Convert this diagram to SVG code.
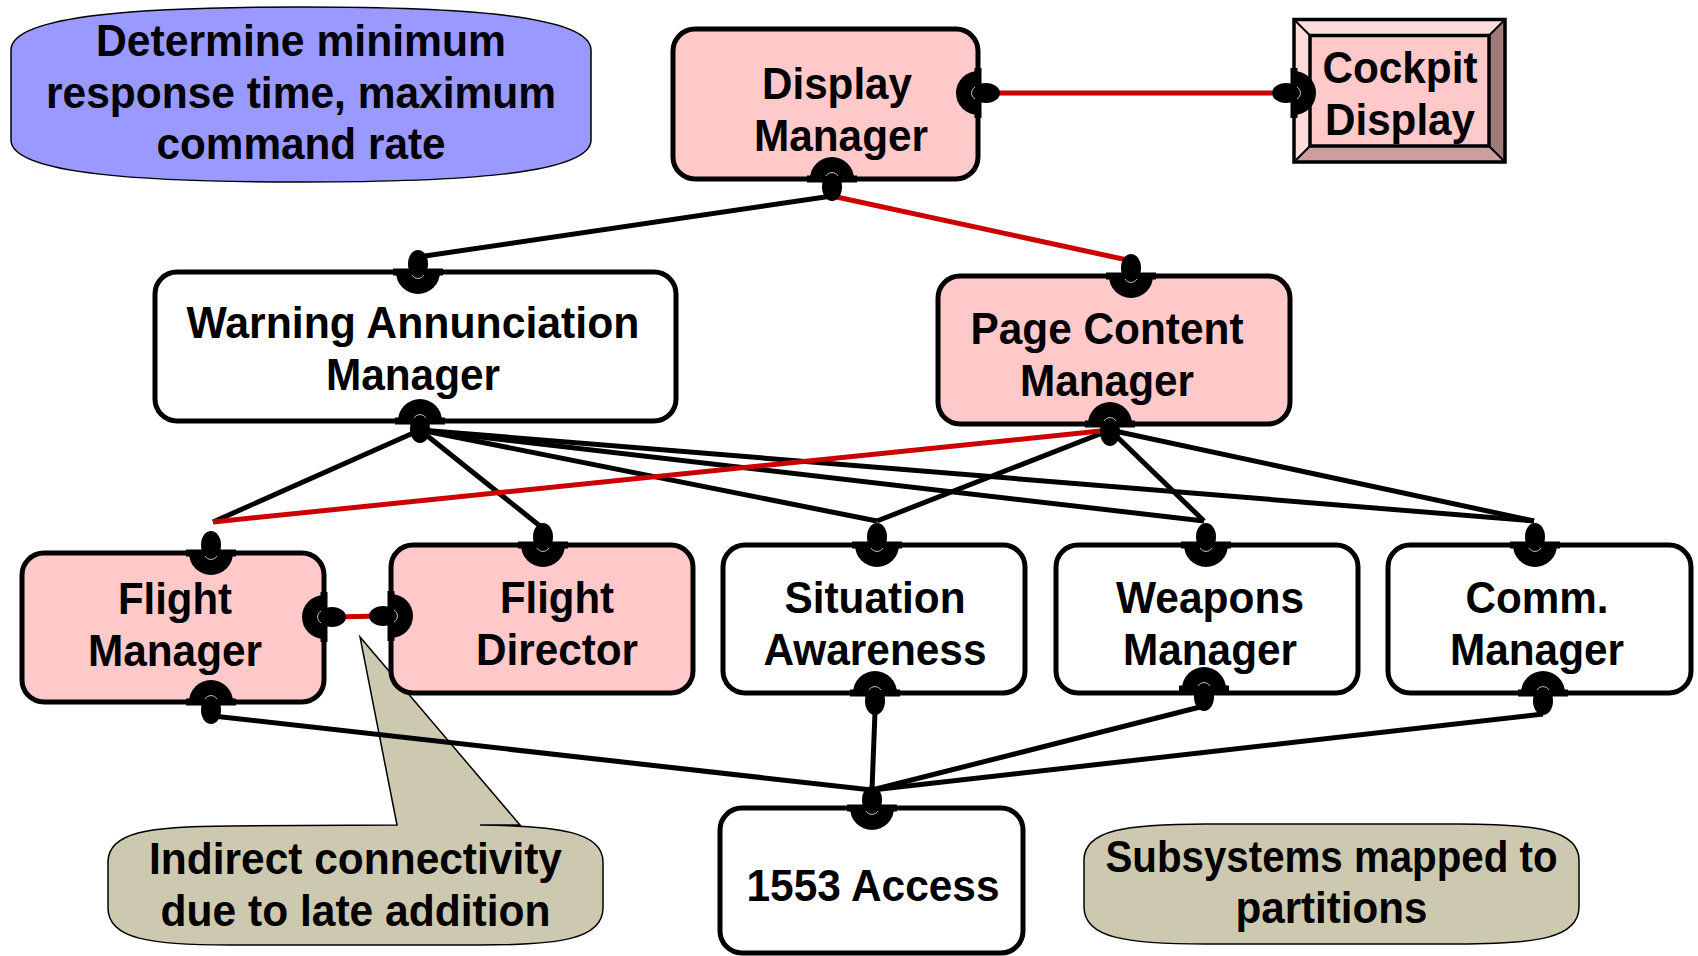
<svg xmlns="http://www.w3.org/2000/svg" xmlns:xlink="http://www.w3.org/1999/xlink" width="1698" height="956" viewBox="0 0 1698 956">
  <style>
    .box { stroke: #000; stroke-width: 5; }
    .pink { fill: #ffc9c9; }
    .white { fill: #fff; }
    .lbl { font-family: "Liberation Sans", Arial, sans-serif; font-weight: bold; font-size: 44px; fill: #000; text-anchor: middle; }
    .note { stroke: #000; stroke-width: 1.5; }
    .wire { fill: none; stroke: #000; stroke-width: 5; }
    .wire.red { stroke: #cc0000; }
  </style>
  <defs>
    <!-- socket port: half-disc inside the box edge, ball pointing outward (-y) -->
    <g id="port">
      <path d="M-22,0 A22,22 0 0,0 22,0 Z" fill="#000"/>
      <rect x="-25" y="-3.5" width="50" height="7" fill="#000"/>
      <ellipse cx="0" cy="-8" rx="10" ry="14" fill="#000"/>
      <path d="M-6,3 A7,7 0 0,0 6,3" fill="none" stroke="#c8c8c8" stroke-width="1"/>
    </g>
  </defs>

  <rect width="1698" height="956" fill="#fff"/>

  <!-- annotations -->
  <g id="note-response">
    <path class="note" fill="#9999ff" d="M11,50 C11,14 150,7 301,7 C452,7 591,14 591,50 L591,140 C591,175 452,182 301,182 C150,182 11,175 11,140 Z"/>
    <text class="lbl" x="301" y="56" textLength="410" lengthAdjust="spacingAndGlyphs">Determine minimum</text>
    <text class="lbl" x="301" y="108" textLength="510" lengthAdjust="spacingAndGlyphs">response time, maximum</text>
    <text class="lbl" x="301" y="159" textLength="289" lengthAdjust="spacingAndGlyphs">command rate</text>
  </g>
  <g id="note-indirect">
    <path class="note" fill="#cdc9b0" d="M108,862 C108,832 150,826 230,826 L397,825 L360,637 L520,825 L480,825 C560,826 603,832 603,862 L603,908 C603,939 560,945 480,945 L230,945 C150,945 108,939 108,908 Z"/>
    <text class="lbl" x="355.5" y="874" textLength="413" lengthAdjust="spacingAndGlyphs">Indirect connectivity</text>
    <text class="lbl" x="355.5" y="926" textLength="390" lengthAdjust="spacingAndGlyphs">due to late addition</text>
  </g>
  <g id="note-subsystems">
    <path class="note" fill="#cdc9b0" d="M1084,860 C1084,830 1126,824 1206,824 L1457,824 C1537,824 1579,830 1579,860 L1579,907 C1579,938 1537,944 1457,944 L1206,944 C1126,944 1084,938 1084,907 Z"/>
    <text class="lbl" x="1331.5" y="872" textLength="452" lengthAdjust="spacingAndGlyphs">Subsystems mapped to</text>
    <text class="lbl" x="1331.5" y="923" textLength="192" lengthAdjust="spacingAndGlyphs">partitions</text>
  </g>

  <!-- connectors -->
  <g id="connectors">
    <path class="wire red" d="M996,93 L1272,93"/>
    <path class="wire" d="M832,196 L418,257"/>
    <path class="wire red" d="M832,196 L1132,261"/>
    <path class="wire" d="M420,430 L213,522"/>
    <path class="wire" d="M420,430 L545,530"/>
    <path class="wire" d="M420,430 L877,521"/>
    <path class="wire" d="M420,430 L1204,521"/>
    <path class="wire" d="M420,430 L1534,521"/>
    <path class="wire" d="M1110,430 L877,521"/>
    <path class="wire" d="M1110,430 L1204,521"/>
    <path class="wire" d="M1110,430 L1534,521"/>
    <path class="wire red" d="M1110,430 L213,522"/>
    <path class="wire red" d="M334,617 L381,616"/>
    <path class="wire" d="M213,716 L872,790"/>
    <path class="wire" d="M875,712 L872,790"/>
    <path class="wire" d="M1204,706 L872,790"/>
    <path class="wire" d="M1543,714 L872,790"/>
  </g>

  <!-- nodes -->
  <g id="display-manager">
    <rect class="box pink" x="673" y="29" width="305" height="150" rx="22"/>
    <text class="lbl" x="837" y="99" textLength="150" lengthAdjust="spacingAndGlyphs">Display</text>
    <text class="lbl" x="841" y="151" textLength="174" lengthAdjust="spacingAndGlyphs">Manager</text>
    <use xlink:href="#port" transform="translate(978 93) rotate(90)"/>
    <use xlink:href="#port" transform="translate(832 179) rotate(180)"/>
  </g>

  <g id="cockpit-display">
    <polygon points="1294,19.5 1505,19.5 1489,35.5 1310,35.5" fill="#ffdcdc"/>
    <polygon points="1294,19.5 1310,35.5 1310,146 1294,162" fill="#ffdcdc"/>
    <polygon points="1294,162 1310,146 1489,146 1505,162" fill="#cc9e9e"/>
    <polygon points="1505,19.5 1505,162 1489,146 1489,35.5" fill="#9e7a7a"/>
    <rect x="1310" y="35.5" width="179" height="110.5" fill="#ffc9c9" stroke="#000" stroke-width="3.5"/>
    <rect x="1294" y="19.5" width="211" height="142.5" fill="none" stroke="#000" stroke-width="3.5"/>
    <path d="M1294,19.5 L1310,35.5 M1505,19.5 L1489,35.5 M1294,162 L1310,146 M1505,162 L1489,146" stroke="#000" stroke-width="2"/>
    <text class="lbl" x="1400" y="83" textLength="155" lengthAdjust="spacingAndGlyphs">Cockpit</text>
    <text class="lbl" x="1400" y="135" textLength="150" lengthAdjust="spacingAndGlyphs">Display</text>
    <use xlink:href="#port" transform="translate(1294 93) rotate(-90)"/>
  </g>

  <g id="warning-annunciation-manager">
    <rect class="box white" x="155" y="272" width="521" height="149" rx="22"/>
    <text class="lbl" x="413" y="338" textLength="453" lengthAdjust="spacingAndGlyphs">Warning Annunciation</text>
    <text class="lbl" x="413" y="390" textLength="174" lengthAdjust="spacingAndGlyphs">Manager</text>
    <use xlink:href="#port" transform="translate(418 272)"/>
    <use xlink:href="#port" transform="translate(420 421) rotate(180)"/>
  </g>

  <g id="page-content-manager">
    <rect class="box pink" x="938" y="276" width="352" height="148" rx="22"/>
    <text class="lbl" x="1107" y="344" textLength="273" lengthAdjust="spacingAndGlyphs">Page Content</text>
    <text class="lbl" x="1107" y="396" textLength="174" lengthAdjust="spacingAndGlyphs">Manager</text>
    <use xlink:href="#port" transform="translate(1131 276)"/>
    <use xlink:href="#port" transform="translate(1110 424) rotate(180)"/>
  </g>

  <g id="flight-manager">
    <rect class="box pink" x="22" y="553" width="302" height="149" rx="22"/>
    <text class="lbl" x="175" y="614" textLength="114" lengthAdjust="spacingAndGlyphs">Flight</text>
    <text class="lbl" x="175" y="666" textLength="174" lengthAdjust="spacingAndGlyphs">Manager</text>
    <use xlink:href="#port" transform="translate(211 553)"/>
    <use xlink:href="#port" transform="translate(324 617) rotate(90)"/>
    <use xlink:href="#port" transform="translate(211 702) rotate(180)"/>
  </g>

  <g id="flight-director">
    <rect class="box pink" x="391" y="545" width="302" height="148" rx="22"/>
    <text class="lbl" x="557" y="613" textLength="114" lengthAdjust="spacingAndGlyphs">Flight</text>
    <text class="lbl" x="557" y="665" textLength="162" lengthAdjust="spacingAndGlyphs">Director</text>
    <use xlink:href="#port" transform="translate(543 545)"/>
    <use xlink:href="#port" transform="translate(391 616) rotate(-90)"/>
  </g>

  <g id="situation-awareness">
    <rect class="box white" x="723" y="545" width="302" height="148" rx="22"/>
    <text class="lbl" x="875" y="613" textLength="181" lengthAdjust="spacingAndGlyphs">Situation</text>
    <text class="lbl" x="875" y="665" textLength="223" lengthAdjust="spacingAndGlyphs">Awareness</text>
    <use xlink:href="#port" transform="translate(877 545)"/>
    <use xlink:href="#port" transform="translate(875 693) rotate(180)"/>
  </g>

  <g id="weapons-manager">
    <rect class="box white" x="1056" y="545" width="302" height="148" rx="22"/>
    <text class="lbl" x="1210" y="613" textLength="188" lengthAdjust="spacingAndGlyphs">Weapons</text>
    <text class="lbl" x="1210" y="665" textLength="174" lengthAdjust="spacingAndGlyphs">Manager</text>
    <use xlink:href="#port" transform="translate(1206 545)"/>
    <use xlink:href="#port" transform="translate(1204 689) rotate(180)"/>
  </g>

  <g id="comm-manager">
    <rect class="box white" x="1388" y="545" width="303" height="148" rx="22"/>
    <text class="lbl" x="1537" y="613" textLength="143" lengthAdjust="spacingAndGlyphs">Comm.</text>
    <text class="lbl" x="1537" y="665" textLength="174" lengthAdjust="spacingAndGlyphs">Manager</text>
    <use xlink:href="#port" transform="translate(1535 545)"/>
    <use xlink:href="#port" transform="translate(1543 693) rotate(180)"/>
  </g>

  <g id="access-1553">
    <rect class="box white" x="720" y="808" width="303" height="145" rx="22"/>
    <text class="lbl" x="873" y="901" textLength="253" lengthAdjust="spacingAndGlyphs">1553 Access</text>
    <use xlink:href="#port" transform="translate(872 808)"/>
  </g>
</svg>
